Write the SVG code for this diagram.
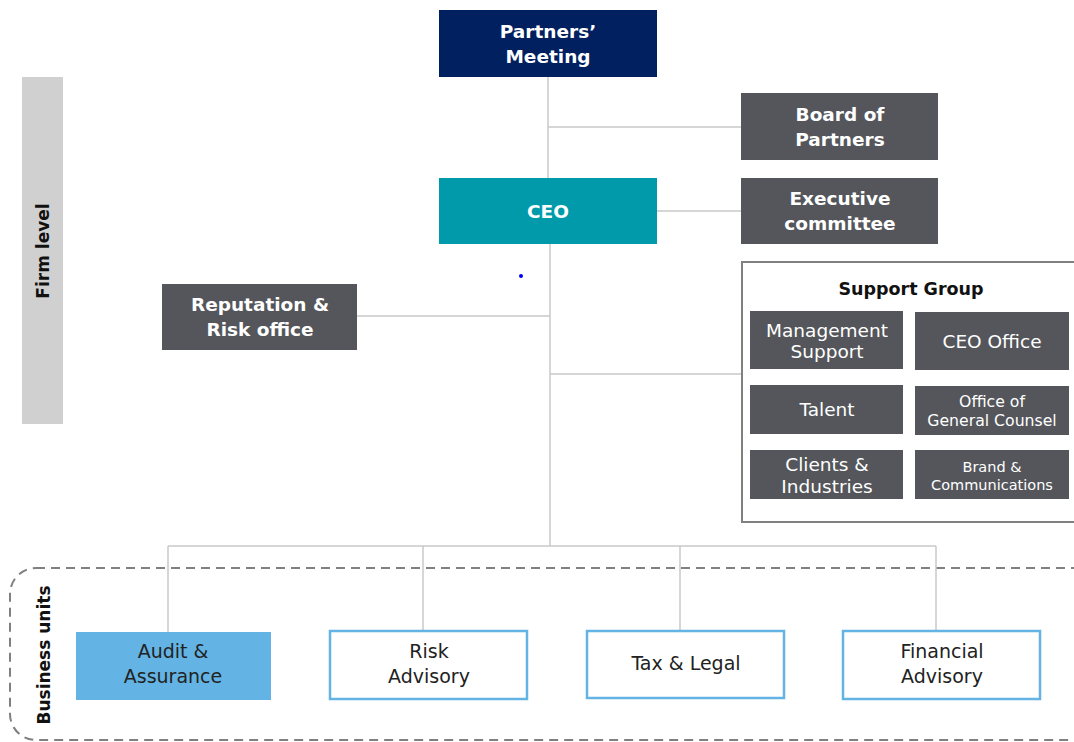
<svg xmlns="http://www.w3.org/2000/svg" width="1074" height="742" viewBox="0 0 1074 742">
  <style>
    text { font-family: "DejaVu Sans", Verdana, sans-serif; text-anchor: middle; }
    .navy { fill: #002060; }
    .teal { fill: #009AAA; }
    .grey { fill: #54565B; }
    .bold { font-weight: bold; fill: #FFFFFF; font-size: 18.5px; }
    .sup { fill: #FFFFFF; font-size: 18.5px; }
    .unit { fill: #FFFFFF; stroke: #63B4E4; stroke-width: 2.5; }
    .unittxt { fill: #222222; font-size: 19px; }
    .band { font-weight: bold; fill: #111111; font-size: 17px; }
    .conn { stroke: #C8C8C8; stroke-width: 1.5; fill: none; }
  </style>

  <!-- level bands -->
  <rect x="22" y="77" width="41" height="347" fill="#D0D0D0"/>
  <text class="band" transform="translate(49,251) rotate(-90)">Firm level</text>
  <rect x="10" y="568" width="1090" height="172" rx="26" fill="none" stroke="#808080" stroke-width="2" stroke-dasharray="9,6"/>
  <text class="band" transform="translate(50,655) rotate(-90)">Business units</text>

  <!-- connectors -->
  <g id="connectors">
    <path class="conn" d="M548,77 V178"/>
    <path class="conn" d="M548,127 H741"/>
    <path class="conn" d="M657,211 H741"/>
    <path class="conn" d="M550,244 V546"/>
    <path class="conn" d="M357,316 H550"/>
    <path class="conn" d="M550,374 H741"/>
    <path class="conn" d="M168,546 H936"/>
    <path class="conn" d="M168,546 V632"/>
    <path class="conn" d="M423,546 V630"/>
    <path class="conn" d="M680,546 V630"/>
    <path class="conn" d="M936,546 V630"/>
  </g>

  <g id="partners-meeting">
    <rect class="navy" x="439" y="10" width="218" height="67"/>
    <text class="bold" x="548" y="38">Partners’</text>
    <text class="bold" x="548" y="63">Meeting</text>
  </g>
  <g id="board-of-partners">
    <rect class="grey" x="741" y="93" width="197" height="67"/>
    <text class="bold" x="840" y="121">Board of</text>
    <text class="bold" x="840" y="146">Partners</text>
  </g>
  <g id="ceo">
    <rect class="teal" x="439" y="178" width="218" height="66"/>
    <text class="bold" x="548" y="218">CEO</text>
  </g>
  <g id="executive-committee">
    <rect class="grey" x="741" y="178" width="197" height="66"/>
    <text class="bold" x="840" y="205">Executive</text>
    <text class="bold" x="840" y="230">committee</text>
  </g>
  <circle cx="521" cy="276" r="2" fill="#0000EE"/>
  <g id="reputation-risk">
    <rect class="grey" x="162" y="284" width="195" height="66"/>
    <text class="bold" x="260" y="311">Reputation &amp;</text>
    <text class="bold" x="260" y="336">Risk office</text>
  </g>

  <g id="support-group">
    <rect x="742" y="262" width="340" height="260" fill="#FFFFFF" stroke="#808080" stroke-width="2"/>
    <text x="911" y="295" style="font-weight:bold;fill:#111111;font-size:17.5px">Support Group</text>
  </g>
  <g id="management-support">
    <rect class="grey" x="750" y="311" width="153" height="58"/>
    <text class="sup" x="827" y="337">Management</text>
    <text class="sup" x="827" y="358">Support</text>
  </g>
  <g id="ceo-office">
    <rect class="grey" x="915" y="312" width="154" height="58"/>
    <text class="sup" x="992" y="348">CEO Office</text>
  </g>
  <g id="talent">
    <rect class="grey" x="750" y="385" width="153" height="49"/>
    <text class="sup" x="827" y="416">Talent</text>
  </g>
  <g id="general-counsel">
    <rect class="grey" x="915" y="386" width="154" height="49"/>
    <text class="sup" x="992" y="407" style="font-size:15.7px">Office of</text>
    <text class="sup" x="992" y="426" style="font-size:15.7px">General Counsel</text>
  </g>
  <g id="clients-industries">
    <rect class="grey" x="750" y="450" width="153" height="49"/>
    <text class="sup" x="827" y="471">Clients &amp;</text>
    <text class="sup" x="827" y="493">Industries</text>
  </g>
  <g id="brand-communications">
    <rect class="grey" x="915" y="450" width="154" height="49"/>
    <text class="sup" x="992" y="472" style="font-size:14.5px">Brand &amp;</text>
    <text class="sup" x="992" y="490" style="font-size:14.5px">Communications</text>
  </g>

  <g id="audit-assurance">
    <rect x="76" y="632" width="195" height="68" fill="#63B4E4"/>
    <text class="unittxt" x="173" y="658">Audit &amp;</text>
    <text class="unittxt" x="173" y="683">Assurance</text>
  </g>
  <g id="risk-advisory">
    <rect class="unit" x="330" y="631" width="197" height="68"/>
    <text class="unittxt" x="429" y="658">Risk</text>
    <text class="unittxt" x="429" y="683">Advisory</text>
  </g>
  <g id="tax-legal">
    <rect class="unit" x="587" y="631" width="197" height="67"/>
    <text class="unittxt" x="686" y="670">Tax &amp; Legal</text>
  </g>
  <g id="financial-advisory">
    <rect class="unit" x="843" y="631" width="197" height="68"/>
    <text class="unittxt" x="942" y="658">Financial</text>
    <text class="unittxt" x="942" y="683">Advisory</text>
  </g>
</svg>
